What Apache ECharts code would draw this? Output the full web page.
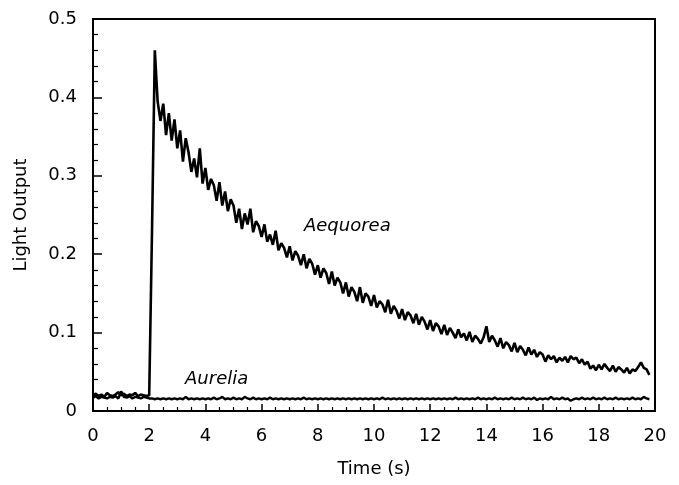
<!DOCTYPE html>
<html>
<head>
<meta charset="utf-8">
<script src="https://cdn.jsdelivr.net/npm/echarts@6/dist/echarts.min.js"></script>
<style>html,body{margin:0;padding:0;background:#fff}#c{width:679px;height:485px}</style>
</head>
<body>
<div id="c"></div>
<script>
// sampling grid: 0.0 .. 19.8 s, step 0.1 s
var timeStep = 0.1;
var xTicks = [0, 2, 4, 6, 8, 10, 12, 14, 16, 18, 20];
var yTicks = [0, 0.1, 0.2, 0.3, 0.4, 0.5];

// Aequorea light output, one value per 0.1 s
var aequorea = [
  0.020,0.022,0.019,0.021,0.018,0.023,0.020,0.019,0.021,0.024, // 0.0-0.9
  0.020,0.022,0.019,0.021,0.020,0.023,0.019,0.021,0.020,0.019, // 1.0-1.9
  0.020,0.230,0.460,0.395,0.370,0.392,0.352,0.380,0.345,0.372, // 2.0-2.9
  0.335,0.358,0.318,0.348,0.330,0.305,0.322,0.298,0.335,0.290, // 3.0-3.9
  0.310,0.282,0.296,0.288,0.268,0.292,0.262,0.280,0.255,0.270, // 4.0-4.9
  0.262,0.240,0.258,0.232,0.252,0.238,0.258,0.228,0.242,0.236, // 5.0-5.9
  0.222,0.238,0.216,0.225,0.212,0.230,0.205,0.214,0.208,0.196, // 6.0-6.9
  0.210,0.192,0.204,0.198,0.186,0.200,0.182,0.194,0.188,0.174, // 7.0-7.9
  0.186,0.170,0.182,0.176,0.162,0.178,0.160,0.170,0.164,0.150, // 8.0-8.9
  0.164,0.146,0.158,0.152,0.140,0.158,0.138,0.150,0.146,0.134, // 9.0-9.9
  0.148,0.132,0.140,0.136,0.126,0.142,0.124,0.134,0.128,0.118, // 10.0-10.9
  0.130,0.116,0.126,0.122,0.112,0.124,0.110,0.120,0.114,0.104, // 11.0-11.9
  0.116,0.102,0.112,0.108,0.098,0.110,0.097,0.106,0.100,0.093, // 12.0-12.9
  0.104,0.094,0.099,0.090,0.101,0.088,0.096,0.092,0.086,0.094, // 13.0-13.9
  0.108,0.088,0.096,0.090,0.082,0.093,0.080,0.088,0.084,0.076, // 14.0-14.9
  0.087,0.075,0.083,0.078,0.071,0.081,0.072,0.078,0.069,0.075, // 15.0-15.9
  0.072,0.063,0.071,0.066,0.070,0.062,0.068,0.064,0.069,0.062, // 16.0-16.9
  0.070,0.066,0.068,0.061,0.066,0.059,0.063,0.054,0.058,0.052, // 17.0-17.9
  0.059,0.053,0.060,0.055,0.051,0.058,0.050,0.056,0.053,0.049, // 18.0-18.9
  0.055,0.048,0.053,0.051,0.056,0.062,0.055,0.053,0.046        // 19.0-19.8
];

// Aurelia light output, one value per 0.1 s
var aurelia = [
  0.017,0.019,0.016,0.018,0.017,0.016,0.018,0.017,0.019,0.016, // 0.0-0.9
  0.025,0.018,0.017,0.019,0.016,0.018,0.017,0.016,0.018,0.017, // 1.0-1.9
  0.016,0.016,0.015,0.016,0.015,0.016,0.015,0.016,0.015,0.016, // 2.0-2.9
  0.015,0.016,0.015,0.018,0.015,0.016,0.015,0.016,0.015,0.016, // 3.0-3.9
  0.015,0.016,0.015,0.017,0.015,0.016,0.018,0.015,0.016,0.015, // 4.0-4.9
  0.017,0.015,0.016,0.015,0.018,0.016,0.015,0.017,0.015,0.016, // 5.0-5.9
  0.015,0.016,0.015,0.017,0.015,0.016,0.015,0.016,0.015,0.016, // 6.0-6.9
  0.015,0.016,0.015,0.016,0.015,0.017,0.015,0.016,0.015,0.016, // 7.0-7.9
  0.015,0.016,0.015,0.016,0.015,0.016,0.015,0.016,0.015,0.016, // 8.0-8.9
  0.015,0.016,0.015,0.016,0.015,0.016,0.015,0.016,0.015,0.016, // 9.0-9.9
  0.015,0.016,0.015,0.017,0.015,0.016,0.015,0.016,0.015,0.016, // 10.0-10.9
  0.015,0.016,0.015,0.016,0.015,0.016,0.015,0.016,0.015,0.016, // 11.0-11.9
  0.015,0.016,0.015,0.016,0.015,0.016,0.015,0.016,0.015,0.017, // 12.0-12.9
  0.015,0.016,0.015,0.016,0.015,0.016,0.015,0.017,0.015,0.016, // 13.0-13.9
  0.015,0.016,0.015,0.017,0.015,0.016,0.015,0.016,0.015,0.017, // 14.0-14.9
  0.015,0.016,0.015,0.017,0.015,0.016,0.015,0.017,0.014,0.016, // 15.0-15.9
  0.015,0.016,0.015,0.018,0.015,0.016,0.015,0.017,0.015,0.016, // 16.0-16.9
  0.013,0.015,0.016,0.015,0.017,0.015,0.016,0.015,0.017,0.015, // 17.0-17.9
  0.016,0.015,0.017,0.015,0.016,0.015,0.017,0.015,0.016,0.015, // 18.0-18.9
  0.016,0.015,0.017,0.015,0.016,0.015,0.018,0.016,0.015        // 19.0-19.8
];

var labels = [
  { name: 'Aequorea', t: 9.05, v: 0.235 },
  { name: 'Aurelia', t: 4.4, v: 0.041 }
];

function pairs(vals) {
  var out = [];
  for (var i = 0; i < vals.length; i++) out.push([Math.round(i * timeStep * 10) / 10, vals[i]]);
  return out;
}

var FONT = 'DejaVu Sans';
var FS = 18;
var chart = echarts.init(document.getElementById('c'), null, { renderer: 'canvas' });
chart.setOption({
  animation: false,
  backgroundColor: '#fff',
  grid: { left: 93, right: 24, top: 19, bottom: 74, show: true, borderColor: '#000', borderWidth: 2, backgroundColor: 'transparent' },
  xAxis: {
    type: 'value', min: xTicks[0], max: xTicks[xTicks.length - 1], interval: 2,
    name: 'Time (s)', nameLocation: 'middle', nameGap: 49,
    nameTextStyle: { fontFamily: FONT, fontSize: FS, color: '#000' },
    axisLine: { lineStyle: { color: '#000', width: 2 } },
    axisTick: { inside: true, length: 7, lineStyle: { color: '#000', width: 1.5 } },
    minorTick: { show: true, splitNumber: 4, length: 4, lineStyle: { color: '#000', width: 1.2 } },
    splitLine: { show: false },
    axisLabel: { fontFamily: FONT, fontSize: FS, color: '#000', margin: 16 }
  },
  yAxis: {
    type: 'value', min: yTicks[0], max: yTicks[yTicks.length - 1], interval: 0.1,
    name: 'Light Output', nameLocation: 'middle', nameGap: 63,
    nameTextStyle: { fontFamily: FONT, fontSize: FS, color: '#000' },
    axisLine: { lineStyle: { color: '#000', width: 2 } },
    axisTick: { inside: true, length: 9, lineStyle: { color: '#000', width: 1.5 } },
    minorTick: { show: true, splitNumber: 5, length: 5, lineStyle: { color: '#000', width: 1.2 } },
    splitLine: { show: false },
    axisLabel: { fontFamily: FONT, fontSize: FS, color: '#000', margin: 16,
      formatter: function (v) { return v === 0 ? '0' : v.toFixed(1); } }
  },
  series: [
    {
      name: 'Aequorea', type: 'line', data: pairs(aequorea), showSymbol: false, symbol: 'none',
      lineStyle: { color: '#000', width: 2.6 },
      markPoint: {
        symbol: 'rect', symbolSize: 1, itemStyle: { color: 'rgba(0,0,0,0)' },
        label: { show: true, position: 'inside', fontFamily: FONT, fontSize: FS, fontStyle: 'italic', color: '#000' },
        data: labels.map(function (l) { return { coord: [l.t, l.v], label: { formatter: l.name } }; })
      }
    },
    {
      name: 'Aurelia', type: 'line', data: pairs(aurelia), showSymbol: false, symbol: 'none',
      lineStyle: { color: '#000', width: 2.4 }
    }
  ]
});
</script>
</body>
</html>
